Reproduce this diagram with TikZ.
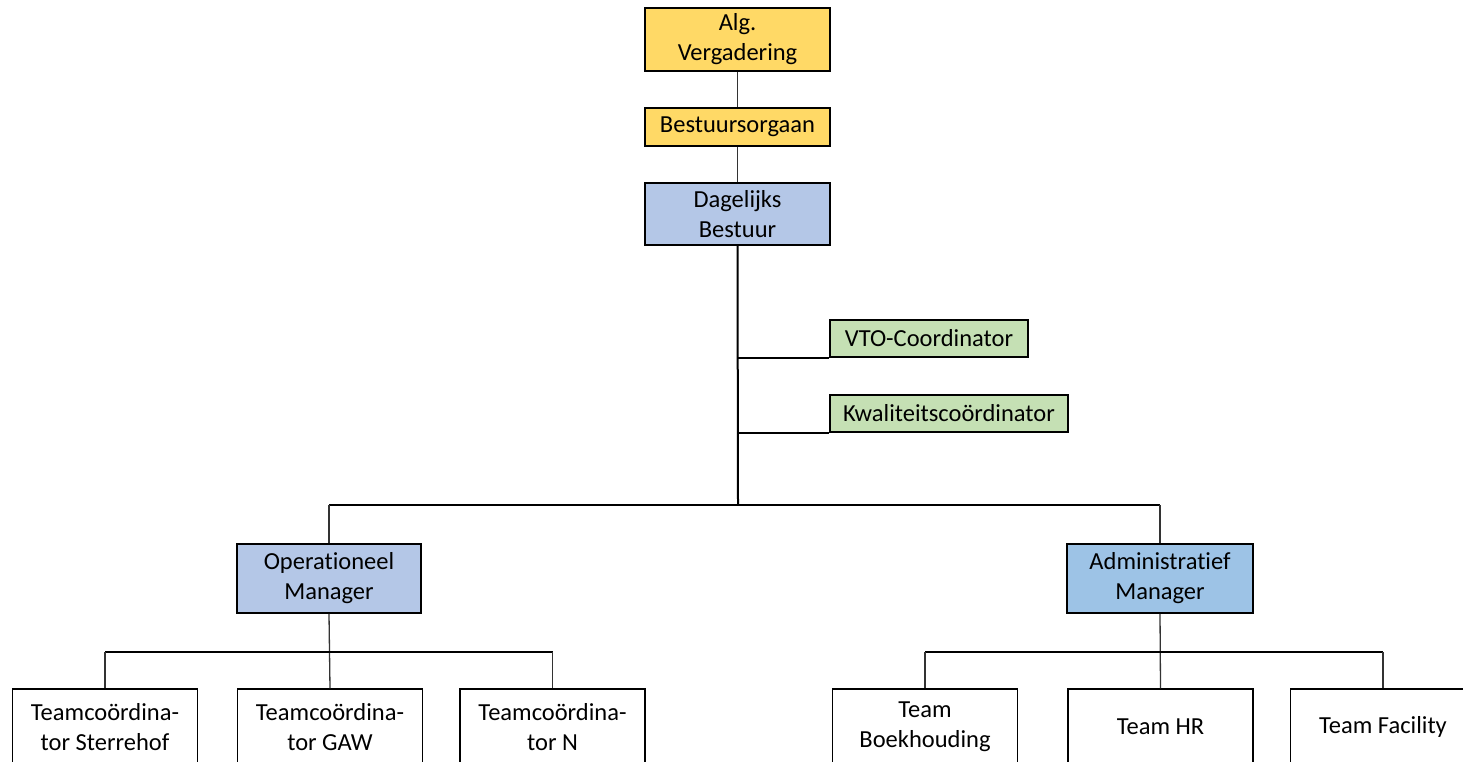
\documentclass[tikz,border=0pt]{standalone}
\usepackage{fontspec}
\setmainfont{Carlito}[RawFeature={-liga,-clig,-dlig,-calt}]
\usepackage{tikz}
\usetikzlibrary{positioning}

\definecolor{geel}{HTML}{FFD966}
\definecolor{blauw}{HTML}{B4C7E7}
\definecolor{lichtblauw}{HTML}{9DC3E6}
\definecolor{groen}{HTML}{C5E0B4}
\newcommand{\geenlig}{\kern0pt\relax}

\begin{document}
\begin{tikzpicture}[x=1pt, y=-1pt,
		box/.style={draw=black, line width=1.6pt, inner sep=0pt, align=center, minimum width=185pt, minimum height=#1},
		box/.default=63pt,
		lijn/.style={line width=1.3pt, color=black!80},
		bus/.style={line width=2.6pt, color=black},
		font=\fontsize{24.5}{30}\selectfont]
		% Rand vastleggen
		\useasboundingbox (0,0) rectangle (1463,762);
		\clip (0,0) rectangle (1463,762);
		% Bovenste lagen
		\node[box, fill=geel] (alg) at (737.5,39.5) {Alg.\\Vergadering};
		\node[box=38pt, fill=geel] (best) at (737.5,127) {Bestuursorgaan};
		\node[box=62pt, fill=blauw] (dag) at (737.5,214) {Dagelijks\\Bestuur};
		% Staf
		\node[box=37pt, fill=groen, minimum width=198pt] (vto) at (929,338.5) {VTO-Coordinator};
		\node[box=37pt, fill=groen, minimum width=238pt] (kwal) at (949,413.5) {Kwaliteitscoördinator};
		% Managers
		\node[box=69pt, fill=blauw, minimum width=184pt] (om) at (329,578.5) {Operat\geenlig ioneel\\Manager};
		\node[box=69pt, fill=lichtblauw, minimum width=186pt] (am) at (1160,578.5) {Administrat\geenlig ief\\Manager};
		% Teams
		\foreach \x/\naam/\tekst in {105/t1/Teamcoördina-\\tor Sterrehof, 330/t2/Teamcoördina-\\tor GAW, 552.5/t3/Teamcoördina-\\tor N,
			925/t4/Team\\Boekhouding, 1160.5/t5/Team HR, 1383/t6/Team Facility}
			\node[box=76pt, fill=white, line width=1.2pt] (\naam) at (\x,727) {\tekst};
		% Hulppunten
		\coordinate (bus) at (738,505);
		\coordinate (opbus) at (329,652);
		\coordinate (adbus) at (1160,652);
		% Verbindingen
		\draw[lijn] (alg.south) -- (best.north);
		\draw[lijn] (best.south) -- (dag.north);
		\draw[bus, line width=2pt] (dag.south) -- (bus);
		\draw[bus, line width=2pt] (vto.south west) -- (vto.south west -| bus);
		\draw[bus, line width=2pt] (kwal.south west) -- (kwal.south west -| bus);
		\draw[bus] (om.north |- bus) -- (am.north |- bus);
		\draw[lijn] (om.north |- bus) -- (om.north);
		\draw[lijn] (am.north |- bus) -- (am.north);
		\draw[lijn] (om.south) -- (t2.north);
		\draw[lijn] (am.south) -- (t5.north);
		\draw[bus] (t1.north |- opbus) -- (t3.north |- opbus);
		\draw[bus] (t4.north |- adbus) -- (t6.north |- adbus);
		\foreach \t in {t1,t3} \draw[lijn] (\t.north |- opbus) -- (\t.north);
		\foreach \t in {t4,t6} \draw[lijn] (\t.north |- adbus) -- (\t.north);
\end{tikzpicture}
\end{document}
